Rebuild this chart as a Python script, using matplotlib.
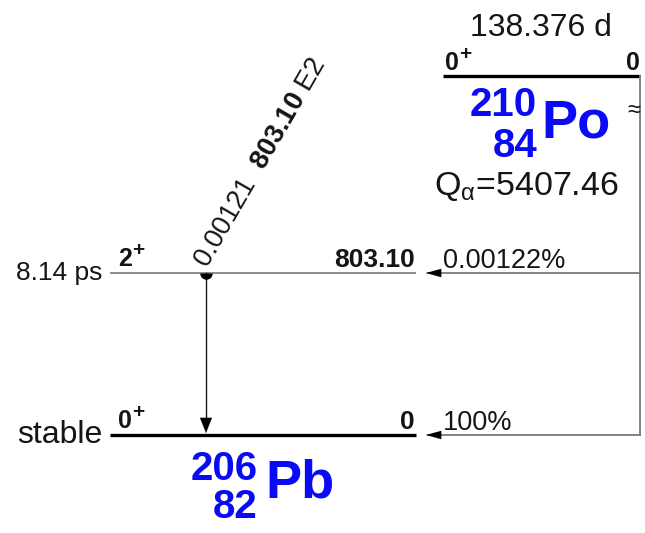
import numpy as np
import matplotlib
matplotlib.use("Agg")
from matplotlib import pyplot as plt

# decay data (210Po alpha decay to 206Pb)
parent_symbol, parent_A, parent_Z = "Po", 210, 84
parent_halflife = "138.376 d"
parent_spin = "0"
parent_parity = "+"
parent_energy = "0"
q_alpha = 5407.46

daughter_symbol, daughter_A, daughter_Z = "Pb", 206, 82
level_energies = [0.0, 803.10]
level_spins = ["0", "2"]
level_parities = ["+", "+"]
level_halflives = ["stable", "8.14 ps"]
alpha_feeding = ["100%", "0.00122%"]

gamma_energy = 803.10
gamma_intensity = "0.00121"
gamma_mult = "E2"
gamma_from, gamma_to = 1, 0

plt.rcParams["font.family"] = ["Liberation Sans", "DejaVu Sans"]
plt.rcParams["mathtext.fontset"] = "custom"
plt.rcParams["mathtext.rm"] = "Liberation Sans"
plt.rcParams["mathtext.it"] = "Liberation Sans"
plt.rcParams["mathtext.bf"] = "Liberation Sans:bold"

fig = plt.figure(figsize=(6.45, 5.33), dpi=100)
ax = fig.add_axes([0, 0, 1, 1])
ax.set_xlim(0, 645)
ax.set_ylim(533, 0)
ax.axis("off")

grey = "#7a7a7a"
blue = "#0a0af5"
txt = "#151515"

# layout (pixels)
xl0, xl1 = 110, 416          # daughter level lines
xp0, xp1 = 443, 640          # parent level line
y_ground, y_first = 435, 273
scale = (y_ground - y_first) / level_energies[1]
y_parent = 76
x_gamma = 206

def level_y(e):
    return y_ground - e * scale

def spin_label(x, y, spin, parity):
    t = ax.text(x, y, spin, fontsize=18, fontweight="bold", ha="left", va="baseline", color=txt)
    ax.annotate(parity, xy=(1.0, 0.62), xycoords=t, xytext=(0.5, 0), textcoords="offset points",
                fontsize=15, fontweight="bold", ha="left", va="baseline", color=txt)

# parent level
ax.plot([xp0, xp1], [y_parent, y_parent], color="k", lw=2.4, solid_capstyle="butt")
spin_label(xp0 + 2, y_parent - 6, parent_spin, parent_parity)
ax.text(xp1, y_parent - 6, parent_energy, fontsize=18, fontweight="bold",
        ha="right", va="baseline", color=txt)
ax.text((xp0 + xp1) / 2 - 1, 36, parent_halflife, fontsize=23, ha="center", va="baseline", color=txt)
ax.text(537, 116, str(parent_A), fontsize=29, fontweight="bold", ha="right", va="baseline", color=blue)
ax.text(537, 157, str(parent_Z), fontsize=29, fontweight="bold", ha="right", va="baseline", color=blue)
ax.text(541, 138, parent_symbol, fontsize=39, fontweight="bold", ha="left", va="baseline", color=blue)
ax.text(434, 195, r"Q$_{\alpha}$=%.2f" % q_alpha, fontsize=24.5, ha="left", va="baseline", color=txt)

# feeding line from parent
ys = [level_y(e) for e in level_energies]
ax.plot([xp1, xp1], [y_parent, max(ys)], color=grey, lw=1.3)
ax.text(634, 111, "\u2248", fontsize=17, ha="center", va="center", color=txt)

for i, e in enumerate(level_energies):
    y = ys[i]
    thick = e == 0
    ax.plot([xl0, xl1], [y, y], color="k" if thick else grey,
            lw=2.4 if thick else 1.2, solid_capstyle="butt")
    spin_label(xl0 + 8, y - 7, level_spins[i], level_parities[i])
    lab = "0" if e == 0 else "%.2f" % e
    ax.text(xl1 - 1, y - 6, lab, fontsize=19, fontweight="bold", ha="right", va="baseline", color=txt)
    ax.text(xl0 - 8, y + (8 if thick else 7), level_halflives[i], fontsize=23 if thick else 19,
            ha="right", va="baseline", color=txt)
    # alpha feeding arrow
    ax.plot([xl1 + 12, xp1], [y, y], color=grey, lw=1.3)
    ax.annotate("", xy=(xl1 + 10, y), xytext=(xl1 + 26, y),
                arrowprops=dict(arrowstyle="-|>,head_length=0.9,head_width=0.25",
                                color="k", lw=0.1, shrinkA=0, shrinkB=0, mutation_scale=12))
    ax.text(xl1 + 27, y - 5, alpha_feeding[i], fontsize=19.5, ha="left", va="baseline", color=txt)

# gamma transition
yg0, yg1 = ys[gamma_from], ys[gamma_to]
ax.plot([x_gamma, x_gamma], [yg0, yg1 - 10], color=txt, lw=1.0)
ax.annotate("", xy=(x_gamma, yg1 - 2), xytext=(x_gamma, yg1 - 18),
            arrowprops=dict(arrowstyle="-|>,head_length=0.9,head_width=0.36",
                            color="k", lw=0.1, shrinkA=0, shrinkB=0, mutation_scale=12))
ax.plot(x_gamma, yg0, marker="o", ms=9, fillstyle="bottom", mfc="k", mfcalt="none",
        mec="none", mew=0)
ax.text(x_gamma + 1, yg0 - 4, r"%s  $\mathbf{%.2f}$ %s" % (gamma_intensity, gamma_energy, gamma_mult),
        fontsize=19.5, rotation=60, rotation_mode="anchor", ha="left", va="baseline", color=txt)

# daughter label
ax.text(258, 480, str(daughter_A), fontsize=29, fontweight="bold", ha="right", va="baseline", color=blue)
ax.text(258, 518, str(daughter_Z), fontsize=29, fontweight="bold", ha="right", va="baseline", color=blue)
ax.text(265, 497, daughter_symbol, fontsize=39, fontweight="bold", ha="left", va="baseline", color=blue)

fig.savefig("out.png", dpi=100)
